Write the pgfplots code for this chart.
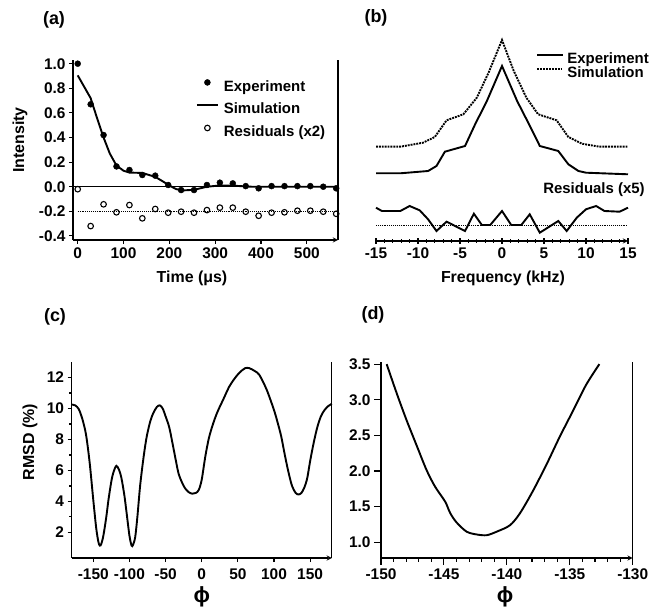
\documentclass[border=0pt]{standalone}
\usepackage{fontspec}
\setmainfont{Liberation Sans}
\usepackage{pgfplots}
\pgfplotsset{compat=1.18}
\newcommand\tf{\fontsize{15.5}{18}\selectfont\bfseries}
\newcommand\lgf{\fontsize{15}{18}\selectfont\bfseries}
\newcommand\lf{\fontsize{16}{19}\selectfont\bfseries}
\newcommand\pf{\fontsize{18}{21}\selectfont\bfseries}
\newcommand\phif{\fontsize{22}{24}\selectfont\bfseries}
\pgfplotsset{
  panel/.style={
    scale only axis, clip=false, anchor=south west,
    axis line style={line width=1.3bp, -},
    every tick/.style={line width=1.1bp, black},
    tick label style={font=\tf},
    /pgf/number format/assume math mode=true,
    every axis x label/.style={anchor=center, font=\lf},
    every axis y label/.style={anchor=center, rotate=90, font=\lf},
    legend style={draw=none, fill=none, inner sep=0pt, outer sep=0pt,
      column sep=5bp, font=\lgf, cells={anchor=west},
      nodes={inner sep=0pt, text height=11bp, text depth=3.5bp}},
  },
  onedec/.style={/pgf/number format/.cd, fixed, fixed zerofill, precision=1},
}

\begin{document}
\begin{tikzpicture}
\path[use as bounding box] (0,0) rectangle (652bp,614bp);

\node[font=\pf] at (54bp,594bp) {(a)};
\node[font=\pf] at (376bp,596bp) {(b)};
\node[font=\pf] at (55bp,297bp) {(c)};
\node[font=\pf] at (373bp,299bp) {(d)};

% (a) time domain
\begin{axis}[panel, at={(73bp,374bp)}, width=265bp, height=180bp,
  xmin=-10.3, xmax=568, ymin=-0.433, ymax=1.03,
  axis x line=bottom, axis y line=box, ytick pos=left,
  xtick={0,100,200,300,400,500}, ytick={-0.4,-0.2,0,0.2,0.4,0.6,0.8,1.0},
  yticklabel style={onedec},
  tick align=outside, major tick length=4bp,
  xlabel={Time (μs)}, ylabel={\lf Intensity},
  x label style={at={(axis description cs:0.449,-0.211)}},
  y label style={at={(axis description cs:-0.2,0.556)}, anchor=center, font=\lf},
  legend image code/.code={\draw[mark repeat=2,mark phase=2,#1] plot coordinates {(0bp,5bp) (10.5bp,5bp) (21bp,5bp)};},
  legend style={at={(axis cs:258,0.872)}, anchor=north west, row sep=8bp},
]
\addplot[line width=0.7bp, forget plot] coordinates {(-10.3,0) (568,0)};
\addplot[line width=0.9bp, densely dotted, forget plot] coordinates {(0,-0.2) (568,-0.2)};
\addplot[only marks, mark=*, mark size=3bp] coordinates {
(0,1.0) (28.2,0.67) (56.4,0.42) (84.6,0.165) (112.8,0.136) (141,0.095) (169.2,0.09)
(197.4,0.014) (225.6,-0.027) (253.8,-0.027) (282,0.014) (310.2,0.033) (338.4,0.027)
(366.6,0.005) (394.8,-0.013) (423,0.005) (451.2,0.005) (479.4,0.005) (507.6,0.005)
(535.8,0.0) (564,-0.013)};
\addlegendentry{Experiment}
\addplot[line width=1.9bp] coordinates {
(0,0.905) (28.2,0.72) (42,0.56) (56.4,0.40) (70,0.27) (84.6,0.172) (100,0.13)
(112.8,0.115) (141,0.112) (169.2,0.08) (185,0.045) (200,0.01) (215,-0.02) (230,-0.03)
(254,-0.025) (282,0.0) (310,0.01) (340,0.008) (380,0.0) (568,0.0)};
\addlegendentry{Simulation}
\addplot[only marks, mark=o, mark size=2.8bp, mark options={line width=1.1bp}] coordinates {
(0,-0.02) (28.2,-0.32) (56.4,-0.143) (84.6,-0.208) (112.8,-0.149) (141,-0.257) (169.2,-0.181)
(197.4,-0.211) (225.6,-0.203) (253.8,-0.211) (282,-0.19) (310.2,-0.17) (338.4,-0.17)
(366.6,-0.203) (394.8,-0.236) (423,-0.211) (451.2,-0.208) (479.4,-0.195) (507.6,-0.195)
(535.8,-0.203) (564,-0.22)};
\addlegendentry{Residuals (x2)}
\end{axis}

% (b) spectra
\begin{axis}[panel, at={(376bp,373bp)}, width=252bp, height=180bp,
  xmin=-15, xmax=15, ymin=0, ymax=180,
  axis x line=bottom, axis y line=none,
  xtick={-15,-10,-5,0,5,10,15}, minor x tick num=4,
  tick align=center, major tick length=6bp, minor tick length=4bp,
  xlabel={Frequency (kHz)},
  x label style={at={(axis description cs:0.504,-0.206)}},
  legend image code/.code={\draw[#1] (0bp,5bp) -- (26bp,5bp);},
  legend style={at={(axis cs:4.1,188.5)}, anchor=north west, row sep=0bp, column sep=3bp},
]
\addplot[line width=1.9bp] coordinates {
(-15,67.7) (-12.1,67.7) (-8.8,70) (-7.8,75) (-6.8,89.3) (-4.4,95) (-3.2,116.7)
(-1.8,140) (0,175) (1.8,140) (3.2,117) (4.5,95) (6.7,90) (7.9,76.7) (9.1,70)
(10,68.3) (15,66.7)};
\addlegendentry{Experiment}
\addplot[line width=1.9bp, densely dotted] coordinates {
(-15,94.3) (-12.1,94.3) (-9.4,98.3) (-8,104) (-6.6,120.7) (-4.6,126.7) (-3,143.3)
(-1.6,168.3) (0,201) (1.4,170) (2.9,143.3) (4.3,126.7) (6.5,120.7) (7.9,104)
(9.5,97.3) (11.6,94.3) (15,94.3)};
\addlegendentry{Simulation}
\addplot[line width=0.9bp, densely dotted, forget plot] coordinates {(-15,16) (15,16)};
\addplot[line width=1.9bp, forget plot] coordinates {
(-15,33.3) (-14.3,30) (-12.1,30) (-11,35) (-9.8,30.7) (-8.8,21.7) (-7.8,10) (-6.6,19.3)
(-4.4,10) (-3.35,27.3) (-2.4,16) (-1.4,16) (0,30) (1.1,16) (2.3,16) (3.3,26.7)
(4.5,8.3) (6.7,20) (7.7,10) (8.9,23.3) (10,31.7) (11.2,35) (12.2,30) (14,29.3) (15,33.3)};
\node[font=\lgf, anchor=east] at (axis cs:17.4,51) {Residuals (x5)};
\end{axis}

% (c) RMSD vs phi
\begin{axis}[panel, at={(71.6bp,56bp)}, width=260.2bp, height=196bp,
  xmin=-180, xmax=180, ymin=0.35, ymax=13.0,
  axis x line=bottom, axis y line=box, ytick pos=left,
  xtick={-150,-100,-50,0,50,100,150}, ytick={2,4,6,8,10,12}, minor y tick num=1,
  tick align=outside, major tick length=4bp, minor tick length=2.5bp,
  xticklabel style={yshift=-3bp},
  xlabel={\phif ϕ}, ylabel={\lf RMSD (\%)},
  x label style={at={(axis description cs:0.501,-0.199)}},
  y label style={at={(axis description cs:-0.16,0.592)}, anchor=center, font=\lf},
]
\addplot[line width=1.9bp, smooth] coordinates {
(-180,10.25) (-175,10.2) (-170,9.95) (-165,9.3) (-160,8.3) (-155,6.5) (-150,4.1)
(-146,2.3) (-143,1.4) (-141,1.15) (-139,1.25) (-136,1.8) (-132,3.0) (-129,4.1)
(-125,5.3) (-122,5.9) (-118,6.3) (-114,6.0) (-111,5.5) (-107,4.4) (-104,3.3)
(-100,1.8) (-97,1.15) (-95,1.2) (-92,1.7) (-89,3.0) (-85,5.1) (-80,7.0) (-76,8.2)
(-71,9.2) (-67,9.7) (-62,10.1) (-58,10.2) (-54,10.0) (-50,9.5) (-45,8.8) (-41,7.9)
(-36,6.7) (-32,5.8) (-27,5.2) (-23,4.85) (-18,4.6) (-13,4.5) (-8,4.55) (-4,4.75)
(0,5.4) (5,6.9) (10,8.1) (16,9.05) (22,9.8) (30,10.6) (38,11.4) (45,11.9) (52,12.3)
(60,12.6) (66,12.6) (74,12.4) (80,12.15) (90,11.2) (100,9.9) (105,9.1) (110,8.2)
(115,7.0) (120,5.9) (125,5.0) (130,4.55) (134,4.45) (138,4.55) (142,4.9) (146,5.5)
(150,6.6) (155,7.8) (160,8.8) (165,9.5) (170,9.9) (175,10.15) (180,10.3)};
\end{axis}

% (d) zoom on minimum
\begin{axis}[panel, at={(381bp,56bp)}, width=251.7bp, height=196bp,
  xmin=-150, xmax=-130, ymin=0.78, ymax=3.53,
  axis x line=bottom, axis y line=box, ytick pos=left,
  xtick={-150,-145,-140,-135,-130}, minor x tick num=4,
  ytick={1.0,1.5,2.0,2.5,3.0,3.5}, yticklabel style={onedec},
  tick align=outside, major tick length=7bp, minor tick length=4bp,
  xlabel={\phif ϕ},
  x label style={at={(axis description cs:0.493,-0.199)}},
]
\addplot[line width=1.9bp, smooth] coordinates {
(-149.55,3.5) (-148.75,3.09) (-147.96,2.71) (-147.17,2.36) (-146.37,2.01)
(-145.7,1.78) (-144.9,1.57) (-144.5,1.41) (-144,1.28) (-143.2,1.15) (-142.4,1.11)
(-141.6,1.10) (-140.8,1.15) (-139.75,1.24) (-138.95,1.41) (-137.9,1.73)
(-136.8,2.11) (-135.8,2.48) (-134.7,2.86) (-133.7,3.21) (-132.65,3.5)};
\end{axis}
\end{tikzpicture}
\end{document}
